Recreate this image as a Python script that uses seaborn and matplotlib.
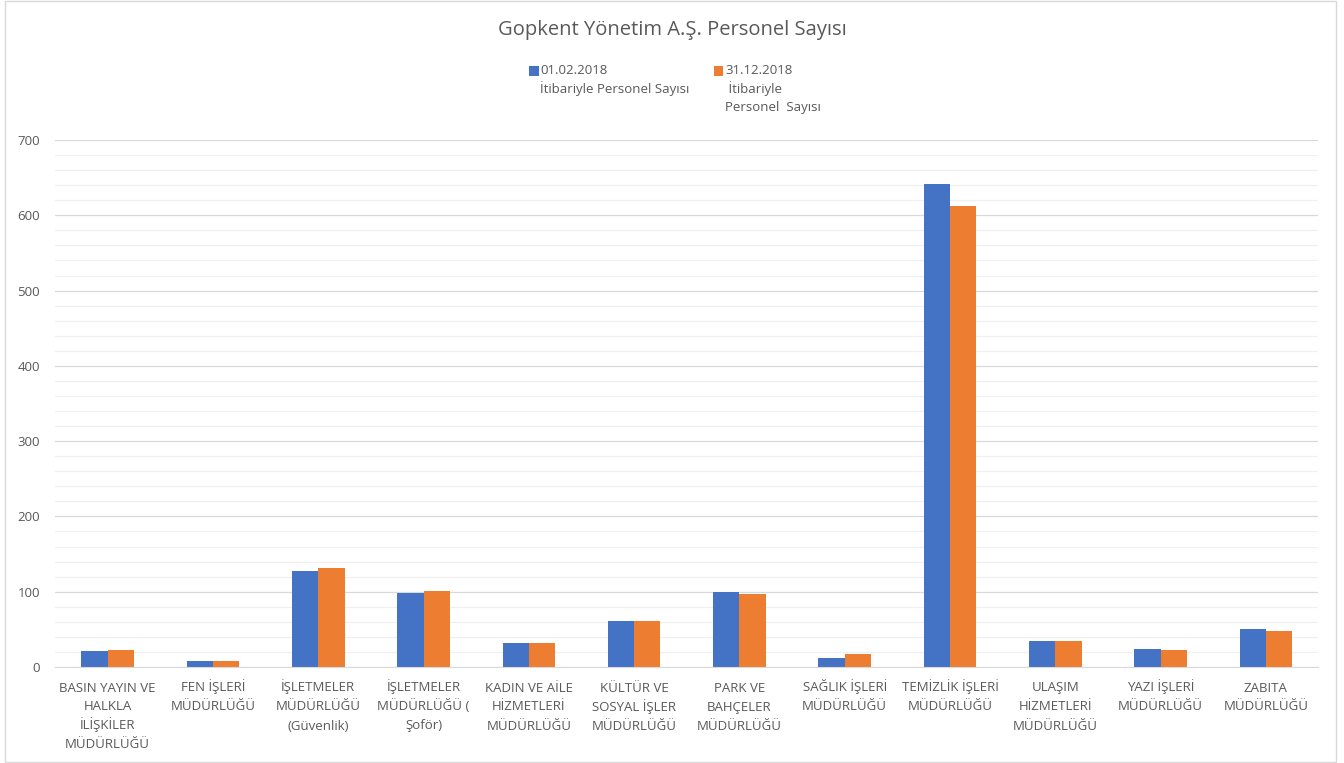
import pandas as pd
import numpy as np
import matplotlib.pyplot as plt
import seaborn as sns
from matplotlib.patches import Rectangle
from matplotlib.ticker import MultipleLocator
from matplotlib.transforms import blended_transform_factory

# Categories (directorates), already wrapped the way the reference shows them
categories = [
    'BASIN YAYIN VE\nHALKLA\nİLİŞKİLER\nMÜDÜRLÜĞÜ',
    'FEN İŞLERİ\nMÜDÜRLÜĞÜ',
    'İŞLETMELER\nMÜDÜRLÜĞÜ\n(Güvenlik)',
    'İŞLETMELER\nMÜDÜRLÜĞÜ (\nŞoför)',
    'KADIN VE AİLE\nHİZMETLERİ\nMÜDÜRLÜĞÜ',
    'KÜLTÜR VE\nSOSYAL İŞLER\nMÜDÜRLÜĞÜ',
    'PARK VE\nBAHÇELER\nMÜDÜRLÜĞÜ',
    'SAĞLIK İŞLERİ\nMÜDÜRLÜĞÜ',
    'TEMİZLİK İŞLERİ\nMÜDÜRLÜĞÜ',
    'ULAŞIM\nHİZMETLERİ\nMÜDÜRLÜĞÜ',
    'YAZI İŞLERİ\nMÜDÜRLÜĞÜ',
    'ZABITA\nMÜDÜRLÜĞÜ',
]

# Staff counts
staff_0102 = [21, 8, 127, 98, 32, 61, 100, 12, 642, 35, 24, 51]
staff_3112 = [23, 8, 132, 101, 32, 61, 97, 17, 613, 35, 22, 48]

series_names = ['01.02.2018\nİtibariyle Personel Sayısı',
                '31.12.2018\n İtibariyle\nPersonel  Sayısı']
colors = ['#4472C4', '#ED7D31']

# long format for seaborn
df = pd.DataFrame({
    'category': categories * 2,
    'value': staff_0102 + staff_3112,
    'series': [series_names[0]] * len(categories) + [series_names[1]] * len(categories),
})

sns.set_style('white')
plt.rcParams['font.family'] = ['Open Sans', 'DejaVu Sans']
text_color = '#595959'
W, H = 1344, 763

fig, ax = plt.subplots(figsize=(13.44, 7.63), dpi=100)
fig.subplots_adjust(left=0.041, right=0.981, top=0.8165, bottom=0.1258)

sns.barplot(data=df, x='category', y='value', hue='series', palette=colors,
            width=0.5, linewidth=0, saturation=1, ax=ax, legend=False)

ax.set_ylim(0, 700)
ax.yaxis.set_major_locator(MultipleLocator(100))
ax.yaxis.set_minor_locator(MultipleLocator(20))
ax.grid(axis='y', which='major', color='#d9d9d9', linewidth=0.9)
ax.grid(axis='y', which='minor', color='#f0f0f0', linewidth=0.9)
ax.set_axisbelow(True)
for side in ['top', 'right', 'left']:
    ax.spines[side].set_visible(False)
ax.spines['bottom'].set_color('#d9d9d9')
ax.tick_params(axis='both', which='both', length=0, colors=text_color, labelsize=9.5)
ax.tick_params(axis='y', pad=11)
ax.set_xlabel('')
ax.set_ylabel('')

# category labels written line by line, so the line spacing stays even
# (matplotlib spreads lines with İ further apart)
xticks = ax.get_xticks()
ax.set_xticklabels([])
trans = blended_transform_factory(ax.transData, fig.transFigure)
for x, cat in zip(xticks, categories):
    for i, line in enumerate(cat.split('\n')):
        ax.text(x, 1 - (691.5 + 19 * i) / H, line, transform=trans, ha='center',
                va='baseline', fontsize=9.5, color=text_color)

# legend drawn by hand so the swatch sits on the first line of each label
legend_x = [529, 714]
for name, col, x in zip(series_names, colors, legend_x):
    fig.patches.append(Rectangle((x / W, 1 - 75.5 / H), 9.5 / W, 9.5 / H, transform=fig.transFigure,
                                 facecolor=col, edgecolor='none'))
    for i, line in enumerate(name.split('\n')):
        fig.text((x + 11) / W, 1 - (74.5 + 18.5 * i) / H, line, ha='left', va='baseline',
                 fontsize=9.5, color=text_color)

fig.text(0.5, 1 - 30 / H, 'Gopkent Yönetim A.Ş. Personel Sayısı', ha='center', va='center',
         fontsize=14.5, color=text_color)

# light frame around the chart
fig.patches.append(Rectangle((0.004, 0.001), 0.99, 0.998, transform=fig.transFigure,
                             fill=False, edgecolor='#d9d9d9', linewidth=1))

plt.savefig('out.png', dpi=100)
